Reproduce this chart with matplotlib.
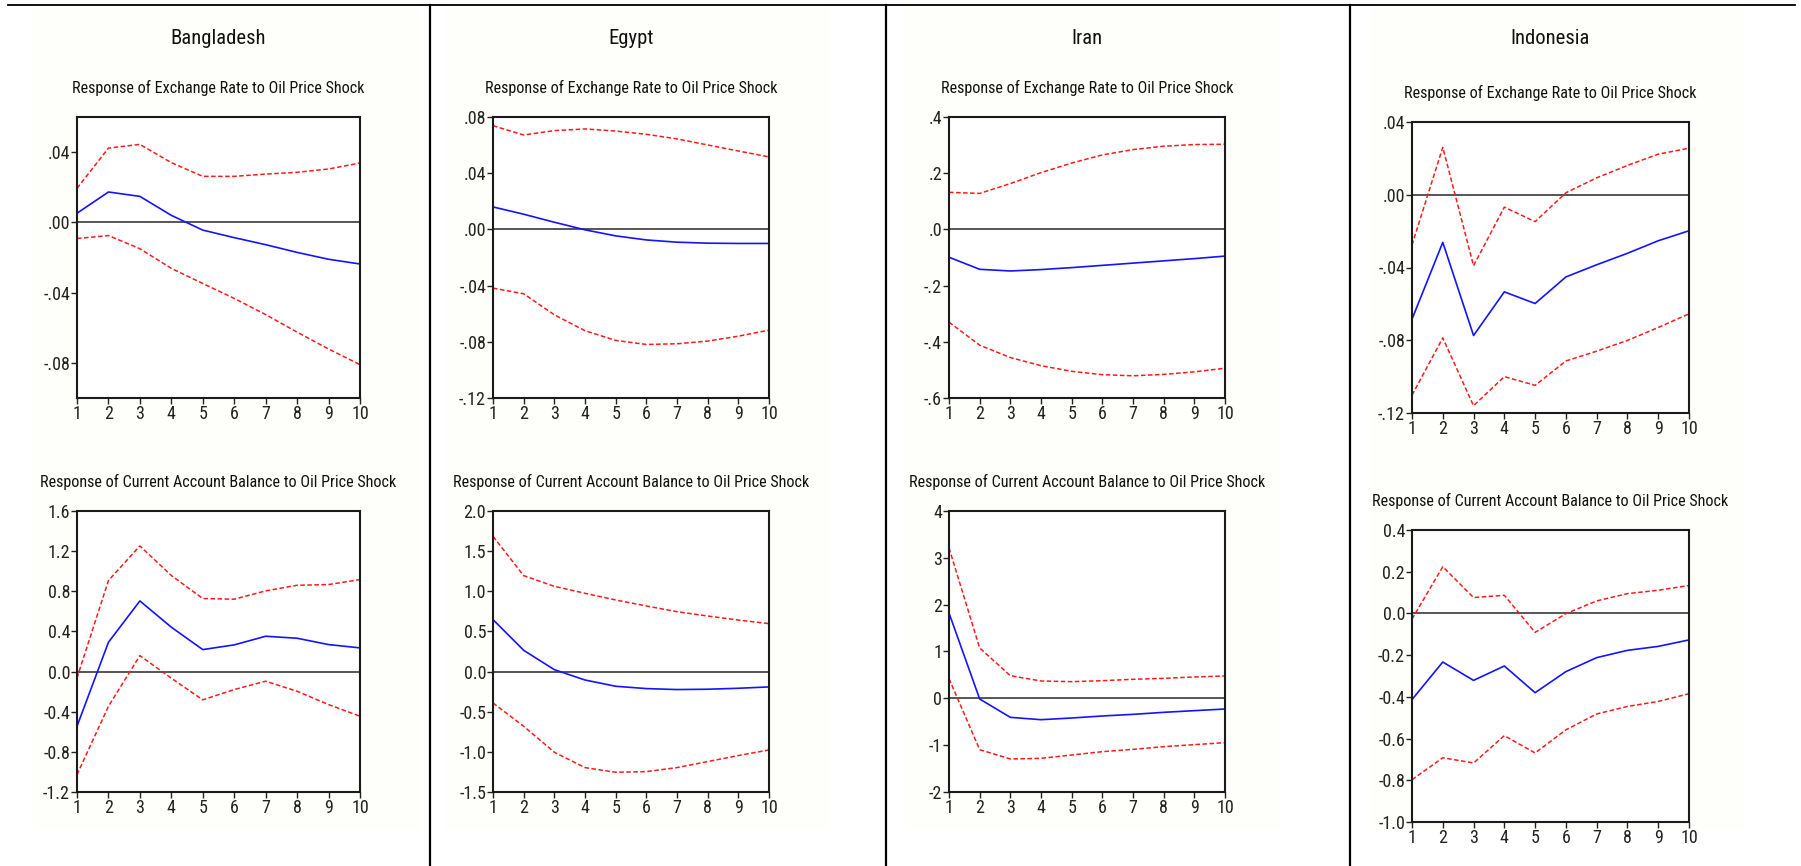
import matplotlib
matplotlib.use("Agg")
import matplotlib.pyplot as plt
from matplotlib import font_manager
from matplotlib.patches import Rectangle
from matplotlib.lines import Line2D

W, H = 1801, 866
horizon = [1, 2, 3, 4, 5, 6, 7, 8, 9, 10]

# exchange rate responses (impulse, lower band, upper band)
bgd_er_mid = [0.0052, 0.0173, 0.0148, 0.0040, -0.0044, -0.0087, -0.0127, -0.0171, -0.0210, -0.0237]
bgd_er_hi = [0.0194, 0.0423, 0.0444, 0.0340, 0.0262, 0.0262, 0.0275, 0.0285, 0.0304, 0.0338]
bgd_er_lo = [-0.0092, -0.0075, -0.0150, -0.0262, -0.0348, -0.0433, -0.0525, -0.0625, -0.0721, -0.0810]

egy_er_mid = [0.0160, 0.0108, 0.0051, -0.0003, -0.0046, -0.0075, -0.0091, -0.0098, -0.0100, -0.0100]
egy_er_hi = [0.0738, 0.0672, 0.0703, 0.0715, 0.0700, 0.0677, 0.0644, 0.0601, 0.0558, 0.0516]
egy_er_lo = [-0.0418, -0.0458, -0.0608, -0.0721, -0.0790, -0.0819, -0.0814, -0.0795, -0.0760, -0.0717]

irn_er_mid = [-0.099, -0.142, -0.148, -0.143, -0.136, -0.128, -0.120, -0.112, -0.104, -0.095]
irn_er_hi = [0.132, 0.128, 0.163, 0.202, 0.236, 0.265, 0.284, 0.296, 0.302, 0.303]
irn_er_lo = [-0.330, -0.412, -0.456, -0.485, -0.505, -0.517, -0.521, -0.516, -0.507, -0.494]

idn_er_mid = [-0.0684, -0.0262, -0.0774, -0.0534, -0.0598, -0.0452, -0.0385, -0.0322, -0.0253, -0.0198]
idn_er_hi = [-0.0276, 0.0261, -0.0390, -0.0068, -0.0148, 0.0011, 0.0093, 0.0161, 0.0223, 0.0256]
idn_er_lo = [-0.1102, -0.0787, -0.1160, -0.1000, -0.1048, -0.0914, -0.0860, -0.0801, -0.0730, -0.0655]

# current account responses
bgd_ca_mid = [-0.545, 0.292, 0.704, 0.442, 0.219, 0.266, 0.352, 0.332, 0.269, 0.236]
bgd_ca_hi = [-0.063, 0.907, 1.252, 0.957, 0.728, 0.721, 0.804, 0.860, 0.867, 0.917]
bgd_ca_lo = [-1.027, -0.346, 0.159, -0.066, -0.282, -0.179, -0.096, -0.196, -0.329, -0.445]

egy_ca_mid = [0.647, 0.265, 0.024, -0.105, -0.183, -0.212, -0.224, -0.220, -0.208, -0.191]
egy_ca_hi = [1.685, 1.195, 1.062, 0.975, 0.892, 0.817, 0.746, 0.692, 0.642, 0.597]
egy_ca_lo = [-0.391, -0.681, -1.005, -1.196, -1.254, -1.246, -1.196, -1.121, -1.046, -0.976]

irn_ca_mid = [1.822, -0.014, -0.406, -0.456, -0.420, -0.377, -0.342, -0.299, -0.263, -0.228]
irn_ca_hi = [3.210, 1.075, 0.484, 0.370, 0.356, 0.377, 0.406, 0.427, 0.456, 0.477]
irn_ca_lo = [0.420, -1.096, -1.295, -1.281, -1.210, -1.139, -1.089, -1.032, -0.989, -0.947]

idn_ca_mid = [-0.413, -0.233, -0.321, -0.252, -0.380, -0.279, -0.212, -0.177, -0.158, -0.127]
idn_ca_hi = [-0.027, 0.224, 0.076, 0.087, -0.091, -0.001, 0.060, 0.095, 0.111, 0.134]
idn_ca_lo = [-0.797, -0.692, -0.717, -0.586, -0.669, -0.558, -0.482, -0.446, -0.422, -0.385]

# y ticks and their labels, one list per panel
bgd_er_ticks = [-0.08, -0.04, 0.0, 0.04]
bgd_er_labels = ["-.08", "-.04", ".00", ".04"]
egy_er_ticks = [-0.12, -0.08, -0.04, 0.0, 0.04, 0.08]
egy_er_labels = ["-.12", "-.08", "-.04", ".00", ".04", ".08"]
irn_er_ticks = [-0.6, -0.4, -0.2, 0.0, 0.2, 0.4]
irn_er_labels = ["-.6", "-.4", "-.2", ".0", ".2", ".4"]
idn_er_ticks = [-0.12, -0.08, -0.04, 0.0, 0.04]
idn_er_labels = ["-.12", "-.08", "-.04", ".00", ".04"]

bgd_ca_ticks = [-1.2, -0.8, -0.4, 0.0, 0.4, 0.8, 1.2, 1.6]
bgd_ca_labels = ["-1.2", "-0.8", "-0.4", "0.0", "0.4", "0.8", "1.2", "1.6"]
egy_ca_ticks = [-1.5, -1.0, -0.5, 0.0, 0.5, 1.0, 1.5, 2.0]
egy_ca_labels = ["-1.5", "-1.0", "-0.5", "0.0", "0.5", "1.0", "1.5", "2.0"]
irn_ca_ticks = [-2, -1, 0, 1, 2, 3, 4]
irn_ca_labels = ["-2", "-1", "0", "1", "2", "3", "4"]
idn_ca_ticks = [-1.0, -0.8, -0.6, -0.4, -0.2, 0.0, 0.2, 0.4]
idn_ca_labels = ["-1.0", "-0.8", "-0.6", "-0.4", "-0.2", "0.0", "0.2", "0.4"]

er_title = "Response of Exchange Rate to Oil Price Shock"
ca_title = "Response of Current Account Balance to Oil Price Shock"


def pick_narrow_font():
    # prefer a narrow sans; otherwise a condensed face of a common family
    entries = font_manager.fontManager.ttflist
    names = {f.name for f in entries}
    for n in ["Liberation Sans Narrow", "Roboto Condensed", "Arial Narrow", "Open Sans Condensed"]:
        if n in names:
            return n, "normal"
    for fam in ["DejaVu Sans", "Roboto", "Open Sans", "Noto Sans"]:
        for f in entries:
            if f.name == fam and str(f.stretch) in ("condensed", "semi-condensed", "extra-condensed"):
                return fam, str(f.stretch)
    return "Liberation Sans", "normal"


font_name, font_stretch = pick_narrow_font()
plt.rcParams['font.family'] = [font_name, 'DejaVu Sans']
plt.rcParams['font.stretch'] = font_stretch

fig = plt.figure(figsize=(W / 100, H / 100), dpi=100)
fig.patch.set_facecolor("white")

# scale all text so the subtitle has the printed width (about 294 px)
probe = fig.text(0, 0, er_title, fontsize=12.5)
renderer = fig.canvas.get_renderer()
scale = min(1.0, 294 / probe.get_window_extent(renderer).width)
probe.remove()
fs_country = 16 * scale
fs_sub = 12.5 * scale
fs_tick = 14 * scale


def px_axes(left, top, right, bottom):
    return fig.add_axes([left / W, 1 - bottom / H, (right - left) / W, (bottom - top) / H])


def irf_panel(ax, mid, lo, hi, ticks, labels, ylim):
    ax.plot(horizon, hi, color="#ff1a1a", lw=1.1, ls=(0, (3, 1.6)))
    ax.plot(horizon, lo, color="#ff1a1a", lw=1.1, ls=(0, (3, 1.6)))
    ax.plot(horizon, mid, color="#1414ff", lw=1.2)
    ax.axhline(0, color="#555555", lw=1.4, zorder=1)
    ax.set_xlim(1, 10)
    ax.set_ylim(*ylim)
    ax.set_xticks(horizon)
    ax.set_yticks(ticks)
    ax.set_yticklabels(labels)
    ax.tick_params(axis="both", direction="out", length=4, width=1, labelsize=fs_tick,
                   pad=1, colors="#222222")
    for s in ax.spines.values():
        s.set_linewidth(1.5)
        s.set_color("#1a1a1a")


# off-white backdrop behind each exported graph
for x0, x1 in [(33, 420), (445, 830), (905, 1280), (1370, 1745)]:
    fig.patches.append(Rectangle((x0 / W, 1 - 830 / H), (x1 - x0) / W, 825 / H,
                                 transform=fig.transFigure, facecolor="#fefefa",
                                 edgecolor="none", zorder=-5))

# table rules
fig.add_artist(Line2D([8 / W, 1795 / W], [1 - 5 / H, 1 - 5 / H], color="black", lw=1.3))
for xv in [430, 886, 1350]:
    fig.add_artist(Line2D([xv / W, xv / W], [0, 1 - 5 / H], color="black", lw=1.6))

panels = [
    # name, (left, right), top box (top, bottom), bottom box (top, bottom), data
    ("Bangladesh", (77, 360), (117, 398), (511, 792),
     (bgd_er_mid, bgd_er_lo, bgd_er_hi, bgd_er_ticks, bgd_er_labels, (-0.10, 0.06)),
     (bgd_ca_mid, bgd_ca_lo, bgd_ca_hi, bgd_ca_ticks, bgd_ca_labels, (-1.2, 1.6))),
    ("Egypt", (493, 769), (117, 398), (511, 792),
     (egy_er_mid, egy_er_lo, egy_er_hi, egy_er_ticks, egy_er_labels, (-0.12, 0.08)),
     (egy_ca_mid, egy_ca_lo, egy_ca_hi, egy_ca_ticks, egy_ca_labels, (-1.5, 2.0))),
    ("Iran", (949, 1225), (117, 398), (511, 792),
     (irn_er_mid, irn_er_lo, irn_er_hi, irn_er_ticks, irn_er_labels, (-0.6, 0.4)),
     (irn_ca_mid, irn_ca_lo, irn_ca_hi, irn_ca_ticks, irn_ca_labels, (-2, 4))),
    ("Indonesia", (1412, 1689), (122, 413), (530, 822),
     (idn_er_mid, idn_er_lo, idn_er_hi, idn_er_ticks, idn_er_labels, (-0.12, 0.04)),
     (idn_ca_mid, idn_ca_lo, idn_ca_hi, idn_ca_ticks, idn_ca_labels, (-1.0, 0.4))),
]

for name, (xl, xr), (tt, tb), (bt, bb), er, ca in panels:
    cx = (xl + xr) / 2 / W
    fig.text(cx, 1 - 39 / H, name, ha="center", va="center", fontsize=fs_country,
             color="#111111")
    fig.text(cx, 1 - (tt - 29) / H, er_title, ha="center", va="center", fontsize=fs_sub,
             color="#111111")
    fig.text(cx, 1 - (bt - 29) / H, ca_title, ha="center", va="center", fontsize=fs_sub,
             color="#111111")

    ax_top = px_axes(xl, tt, xr, tb)
    irf_panel(ax_top, *er)
    ax_bot = px_axes(xl, bt, xr, bb)
    irf_panel(ax_bot, *ca)

fig.savefig("out.png", dpi=100)
